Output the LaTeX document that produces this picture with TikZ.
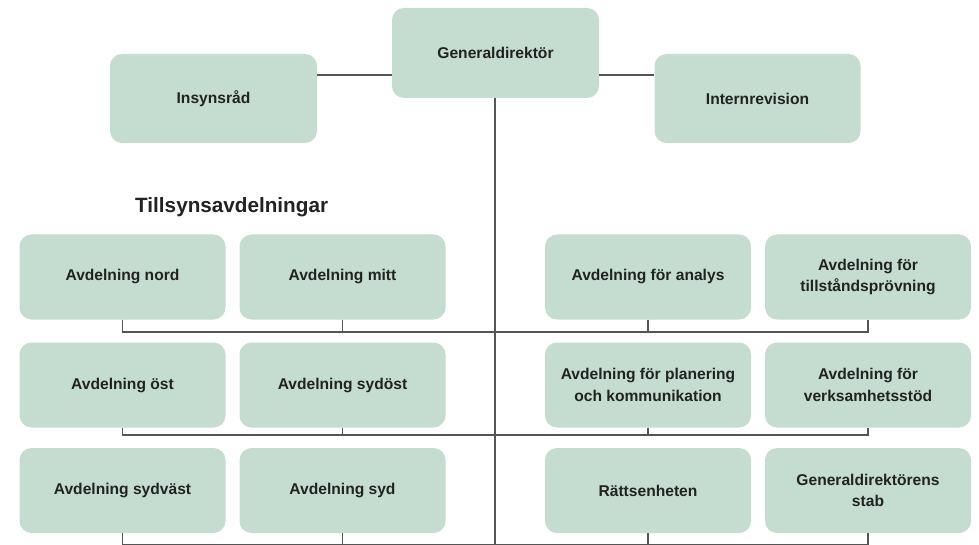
\documentclass[tikz,border=0pt]{standalone}
\usepackage{fontspec}
\setmainfont{Liberation Sans}
\definecolor{boxfill}{HTML}{C4DDD0}
\definecolor{linecol}{HTML}{555555}
\definecolor{textcol}{HTML}{222222}
\begin{document}
\begin{tikzpicture}[x=1pt,y=-1pt,
  orgbox/.style={fill=boxfill, draw=none, rounded corners=12pt, minimum width=206pt, minimum height=85pt,
    align=center, inner sep=0pt, text=textcol, font=\fontsize{15.6}{21.5}\selectfont\bfseries},
  conn/.style={draw=linecol, line width=1.3pt}]
\useasboundingbox (0,0) rectangle (979,545);
\fill[white] (0,0) rectangle (979,545);
% top
\node[orgbox, minimum height=90pt, minimum width=207pt] (gd) at (495.5,53) {Generaldirektör};
\node[orgbox, minimum height=89pt, minimum width=207pt] (ins) at (213.5,98.5) {Insynsråd};
\node[orgbox, minimum height=89pt] (int) at (757.5,98.5) {Internrevision};
\node[anchor=west, inner sep=0pt, text=textcol, font=\fontsize{20.7}{24}\selectfont\bfseries] (tl) at (135,207.5) {Tillsynsavdelningar};
% row 1
\node[orgbox] (a1) at (122.5,277) {Avdelning nord};
\node[orgbox] (a2) at (342.5,277) {Avdelning mitt};
\node[orgbox] (a3) at (648,277) {Avdelning för analys};
\node[orgbox] (a4) at (868,277) {Avdelning för\\tillståndsprövning};
% row 2
\node[orgbox] (b1) at (122.5,385) {Avdelning öst};
\node[orgbox] (b2) at (342.5,385) {Avdelning sydöst};
\node[orgbox] (b3) at (648,385) {Avdelning för planering\\och kommunikation};
\node[orgbox] (b4) at (868,385) {Avdelning för\\verksamhetsstöd};
% row 3
\node[orgbox] (c1) at (122.5,490.5) {Avdelning sydväst};
\node[orgbox] (c2) at (342.5,490.5) {Avdelning syd};
\node[orgbox] (c3) at (648,490.5) {Rättsenheten};
\node[orgbox] (c4) at (868,490.5) {Generaldirektörens\\stab};
% bus coordinates
\coordinate (bus1) at (495,332);
\coordinate (bus2) at (495,435);
\coordinate (bus3) at (495,544.9);
\coordinate (trunkend) at (495,546);
\draw[conn] (ins.east |- 0,75) -- (gd.west |- 0,75);
\draw[conn] (gd.east |- 0,75) -- (int.west |- 0,75);
\draw[conn] (gd.south -| trunkend) -- (trunkend);
\foreach \r/\b in {a/bus1,b/bus2,c/bus3}{
  \draw[conn] (\r1.south) -- (\r1.south |- \b) -- (\r4.south |- \b) -- (\r4.south);
  \draw[conn] (\r2.south) -- (\r2.south |- \b);
  \draw[conn] (\r3.south) -- (\r3.south |- \b);
}
\end{tikzpicture}
\end{document}
